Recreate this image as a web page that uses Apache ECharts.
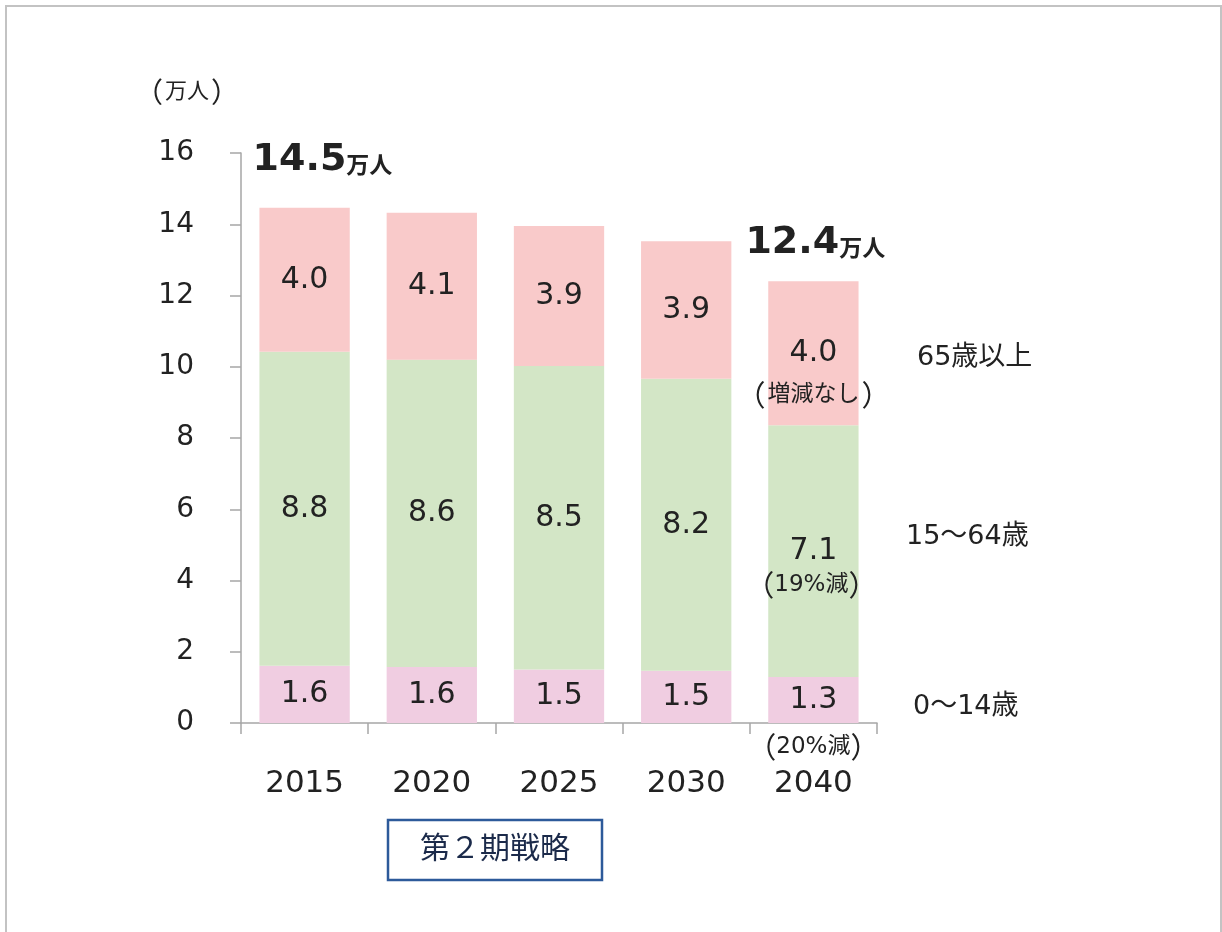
<!DOCTYPE html>
<html>
<head>
<meta charset="utf-8">
<script src="https://cdn.jsdelivr.net/npm/echarts@6/dist/echarts.min.js"></script>
<style>
  html, body { margin: 0; padding: 0; background: #fff; }
  #chart { width: 1222px; height: 932px; }
</style>
</head>
<body>
<div id="chart"></div>
<script>
// Population by age group (unit: 10,000 people)
const categories = ['2015', '2020', '2025', '2030', '2040'];
const age0to14   = [1.61, 1.57, 1.50, 1.47, 1.29];
const age15to64  = [8.81, 8.63, 8.52, 8.19, 7.07];
const age65plus  = [4.04, 4.12, 3.93, 3.86, 4.04];
const groupNames = ['0〜14歳', '15〜64歳', '65歳以上'];
const yMin = 0, yMax = 16, yStep = 2;
const unitLabel = '万人';
const totalUnit = '万人';
const totalShownAt = [0, 4];           // category indexes with a total above the bar
const changeNotes = { top: '増減なし', middle: '19%減', bottom: '20%減' };
const periodLabel = '第２期戦略';

const FONT = "'DejaVu Sans', 'Noto Sans CJK JP', sans-serif";
const CJK = "'Noto Sans CJK JP', sans-serif";
const TEXT = '#222222';
const COLORS = ['#F0CDE1', '#D3E6C6', '#F9CACA'];

const chart = echarts.init(document.getElementById('chart'), null, { renderer: 'canvas' });

function seg(name, data, color) {
  return {
    name: name,
    type: 'bar',
    stack: 'pop',
    data: data,
    barCategoryGap: '29%',
    itemStyle: { color: color },
    label: {
      show: true,
      position: 'inside',
      fontFamily: FONT,
      fontSize: 30,
      color: TEXT,
      formatter: p => p.value.toFixed(1)
    },
    emphasis: { disabled: true }
  };
}

chart.setOption({
  animation: false,
  backgroundColor: '#ffffff',
  textStyle: { fontFamily: FONT },
  grid: { left: 241, right: 345, top: 153, bottom: 209 },
  xAxis: {
    type: 'category',
    data: categories,
    axisLine: { lineStyle: { color: '#a6a6a6', width: 1.5 } },
    axisTick: { show: true, length: 11, lineStyle: { color: '#a6a6a6', width: 1.5 } },
    axisLabel: { fontFamily: FONT, fontSize: 31, color: TEXT, margin: 45 }
  },
  yAxis: {
    type: 'value',
    min: yMin, max: yMax, interval: yStep,
    splitLine: { show: false },
    axisLine: { show: true, lineStyle: { color: '#a6a6a6', width: 1.5 } },
    axisTick: { show: true, length: 11, lineStyle: { color: '#a6a6a6', width: 1.5 } },
    axisLabel: { fontFamily: FONT, fontSize: 28, color: TEXT, margin: 47 }
  },
  series: [
    seg(groupNames[0], age0to14, COLORS[0]),
    seg(groupNames[1], age15to64, COLORS[1]),
    seg(groupNames[2], age65plus, COLORS[2])
  ]
});

// Parenthesised text: taller full-width brackets around the body text
function bracketed(body, size, bracketSize, gap) {
  const base = { fontFamily: FONT, fontSize: size, color: TEXT, fill: TEXT, lineHeight: bracketSize + 4 };
  const br = Object.assign({}, base, { fontFamily: CJK, fontSize: bracketSize });
  return {
    text: '{l|（}{t|' + body + '}{r|）}',
    align: 'center', verticalAlign: 'middle',
    rich: {
      l: Object.assign({}, br, { padding: [0, gap, 0, 0] }),
      t: base,
      r: Object.assign({}, br, { padding: [0, 0, 0, gap] })
    }
  };
}

// Annotations placed from the axis scales
const px = (i, v) => chart.convertToPixel({ gridIndex: 0 }, [i, v]);
const totals = categories.map((_, i) => age0to14[i] + age15to64[i] + age65plus[i]);
const last = categories.length - 1;

const graphics = [
  // outer frame
  { type: 'rect', shape: { x: 6, y: 6, width: 1215, height: 1000 },
    style: { fill: null, stroke: '#c3c3c3', lineWidth: 2 }, silent: true, z: 100 },
  // unit caption
  { type: 'text', x: 187, y: 92, z: 100, style: bracketed(unitLabel, 22, 28, 2) },
  // age group names on the right
  { type: 'text', x: 917, y: 358, z: 100,
    style: { text: groupNames[2], font: "27px " + FONT, fill: TEXT, align: 'left', verticalAlign: 'middle' } },
  { type: 'text', x: 906, y: 537, z: 100,
    style: { text: groupNames[1], font: "27px " + FONT, fill: TEXT, align: 'left', verticalAlign: 'middle' } },
  { type: 'text', x: 913, y: 707, z: 100,
    style: { text: groupNames[0], font: "27px " + FONT, fill: TEXT, align: 'left', verticalAlign: 'middle' } },
  // period box
  { type: 'rect', shape: { x: 388, y: 820, width: 214, height: 60 }, z: 100,
    style: { fill: '#ffffff', stroke: '#2D5A9A', lineWidth: 2.5 } },
  { type: 'text', x: 495, y: 850, z: 101,
    style: { text: periodLabel, font: "30px " + FONT, fill: '#1B2A4A', align: 'center', verticalAlign: 'middle' } }
];

// totals above selected bars
const totalOffsets = { 0: [-52, -28], 4: [-68, -18] };
totalShownAt.forEach(i => {
  const p = px(i, totals[i]);
  const off = totalOffsets[i];
  graphics.push({
    type: 'text', x: p[0] + off[0], y: p[1] + off[1], z: 100,
    style: {
      text: '{n|' + totals[i].toFixed(1) + '}{u|' + totalUnit + '}',
      align: 'left', verticalAlign: 'bottom',
      rich: {
        n: { fontFamily: FONT, fontWeight: 'bold', fontSize: 38, fill: TEXT, color: TEXT, lineHeight: 40 },
        u: { fontFamily: CJK, fontWeight: 'bold', fontSize: 23, color: TEXT, fill: TEXT, lineHeight: 40, verticalAlign: 'bottom', padding: [0, 0, 4, 0] }
      }
    }
  });
});

// change notes for the last year
const xc = px(last, 0)[0];
const yBase = px(last, 0)[1];
const yLow = px(last, age0to14[last])[1];
const yMid = px(last, age0to14[last] + age15to64[last])[1];
graphics.push(
  { type: 'text', x: xc, y: yMid - 30, z: 100, style: bracketed(changeNotes.top, 23, 29, 2) },
  { type: 'text', x: xc - 2, y: (yLow + yMid) / 2 + 34, z: 100, style: bracketed(changeNotes.middle, 23, 29, 0) },
  { type: 'text', x: xc, y: yBase + 24, z: 100, style: bracketed(changeNotes.bottom, 23, 29, 0) }
);

chart.setOption({ graphic: graphics });
</script>
</body>
</html>
